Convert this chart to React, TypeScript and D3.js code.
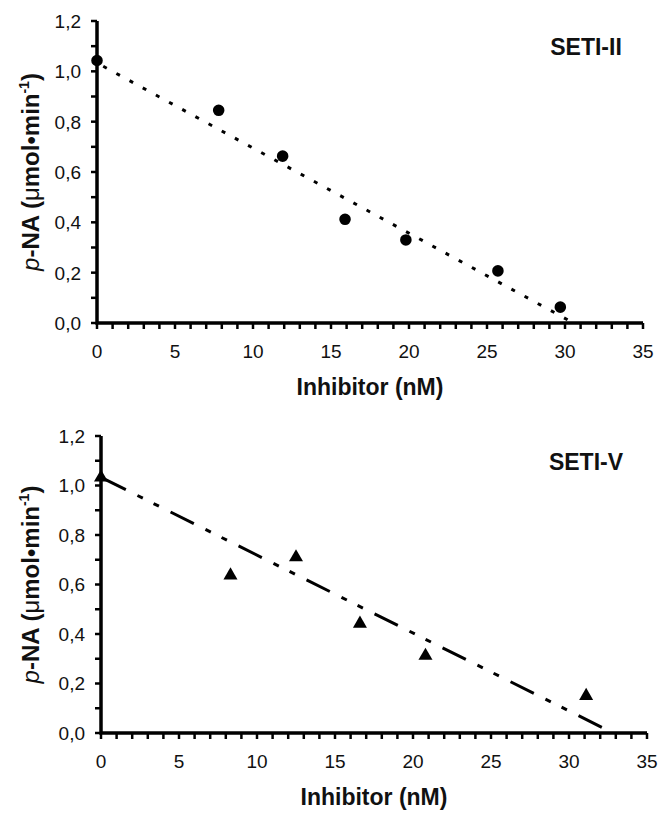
import React, { useEffect, useRef } from "react";
import * as d3 from "d3";

// ---- data ----
const xTickValues = [0, 5, 10, 15, 20, 25, 30, 35];
const yTickValues = [0, 0.2, 0.4, 0.6, 0.8, 1.0, 1.2];

const setiIIInhibitor = [0, 7.8, 11.9, 15.9, 19.8, 25.7, 29.7];
const setiIIActivity = [1.043, 0.845, 0.663, 0.412, 0.33, 0.207, 0.063];
const setiIITrendX = [0.4, 30.4];
const setiIITrendY = [1.02, 0.005];

const setiVInhibitor = [0, 8.3, 12.5, 16.6, 20.8, 31.1];
const setiVActivity = [1.032, 0.637, 0.71, 0.442, 0.312, 0.15];
const setiVTrendX = [0.1, 32.2];
const setiVTrendY = [1.03, 0.02];

const W = 661;
const H = 814;
const FONT = "'Liberation Sans', Arial, sans-serif";

const panels = [
  {
    title: "SETI-II",
    xs: setiIIInhibitor,
    ys: setiIIActivity,
    tx: setiIITrendX,
    ty: setiIITrendY,
    marker: "circle",
    dash: "4 11",
    left: 97, right: 643, top: 21, bottom: 323,
  },
  {
    title: "SETI-V",
    xs: setiVInhibitor,
    ys: setiVActivity,
    tx: setiVTrendX,
    ty: setiVTrendY,
    marker: "triangle",
    dash: "26 13 6 12 6 13",
    left: 101, right: 647, top: 436, bottom: 733,
  },
];

const locale = d3.formatLocale({ decimal: ",", thousands: ".", grouping: [3], currency: ["", ""] });
const fmtY = locale.format(".1f");

export default function App() {
  const ref = useRef<SVGSVGElement>(null);

  useEffect(() => {
    const svg = d3.select(ref.current);
    svg.selectAll("*").remove();

    panels.forEach((p) => {
      const x = d3.scaleLinear().domain([0, 35]).range([p.left, p.right]);
      const y = d3.scaleLinear().domain([0, 1.2]).range([p.bottom, p.top]);
      const g = svg.append("g");

      // trend line
      const line = d3.line<number>().x((d, i) => x(p.tx[i])).y((d, i) => y(p.ty[i]));
      g.append("path")
        .attr("d", line(p.tx))
        .attr("fill", "none")
        .attr("stroke", "#000")
        .attr("stroke-width", 3)
        .attr("stroke-dasharray", p.dash);

      // minor/major ticks
      g.selectAll(".yt")
        .data(d3.range(0, 13).map((i) => i / 10))
        .join("line")
        .attr("x1", x(0) - 6)
        .attr("x2", x(0))
        .attr("y1", (d) => y(d))
        .attr("y2", (d) => y(d))
        .attr("stroke", "#000")
        .attr("stroke-width", 2.5);
      g.selectAll(".xt")
        .data(d3.range(0, 36))
        .join("line")
        .attr("x1", (d) => x(d))
        .attr("x2", (d) => x(d))
        .attr("y1", y(0))
        .attr("y2", y(0) + 6)
        .attr("stroke", "#000")
        .attr("stroke-width", 2.5);

      // axes lines
      g.append("path")
        .attr("d", `M${x(0)},${y(1.2)}V${y(0)}H${x(35)}`)
        .attr("fill", "none")
        .attr("stroke", "#000")
        .attr("stroke-width", 3.5);

      // tick labels
      g.selectAll(".yl")
        .data(yTickValues)
        .join("text")
        .attr("x", x(0) - 16)
        .attr("y", (d) => y(d))
        .attr("dy", "0.36em")
        .attr("text-anchor", "end")
        .attr("font-family", FONT)
        .attr("font-size", 19)
        .attr("fill", "#111")
        .text((d) => fmtY(d));
      g.selectAll(".xl")
        .data(xTickValues)
        .join("text")
        .attr("x", (d) => x(d))
        .attr("y", y(0) + 28)
        .attr("dy", "0.36em")
        .attr("text-anchor", "middle")
        .attr("font-family", FONT)
        .attr("font-size", 19)
        .attr("fill", "#111")
        .text((d) => String(d));

      // x label
      g.append("text")
        .attr("x", (p.left + p.right) / 2)
        .attr("y", y(0) + 64)
        .attr("dy", "0.36em")
        .attr("text-anchor", "middle")
        .attr("font-family", FONT)
        .attr("font-weight", "bold")
        .attr("font-size", 23)
        .attr("fill", "#111")
        .text("Inhibitor (nM)");

      // y label
      const yl = g.append("text")
        .attr("transform", `translate(30,${(p.top + p.bottom) / 2}) rotate(-90)`)
        .attr("dy", "0.36em")
        .attr("text-anchor", "middle")
        .attr("font-family", FONT)
        .attr("font-weight", "bold")
        .attr("font-size", 24)
        .attr("fill", "#111");
      yl.append("tspan").attr("font-style", "italic").attr("font-weight", "normal").text("p");
      yl.append("tspan").text("-NA (");
      yl.append("tspan").attr("font-weight", "normal").text("μ");
      yl.append("tspan").text("mol•min");
      yl.append("tspan").attr("dy", -10).attr("font-size", 14).text("-1");
      yl.append("tspan").attr("dy", 10).text(")");

      // title
      g.append("text")
        .attr("x", 586)
        .attr("y", y(1.2) + 26)
        .attr("dy", "0.36em")
        .attr("text-anchor", "middle")
        .attr("font-family", FONT)
        .attr("font-weight", "bold")
        .attr("font-size", 23)
        .attr("fill", "#111")
        .text(p.title);

      // markers
      const sym = d3.symbol().type(p.marker === "circle" ? d3.symbolCircle : d3.symbolTriangle).size(p.marker === "circle" ? 105 : 85);
      g.selectAll(".pt")
        .data(p.xs)
        .join("path")
        .attr("d", sym() as string)
        .attr("transform", (d, i) => `translate(${x(d)},${y(p.ys[i])})`)
        .attr("fill", "#000");
    });
  }, []);

  return (
    <svg
      ref={ref}
      width={W}
      height={H}
      style={{ position: "absolute", left: 0, top: 0, background: "#fff" }}
    />
  );
}
